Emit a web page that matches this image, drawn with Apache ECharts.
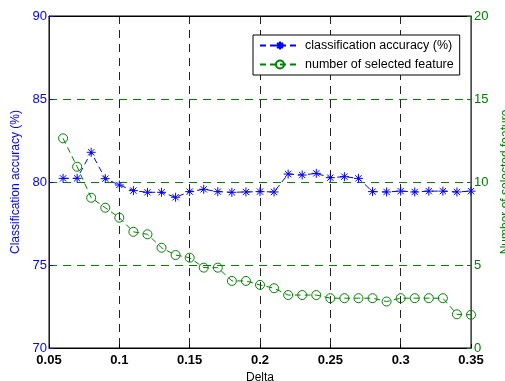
<!DOCTYPE html>
<html>
<head>
<meta charset="utf-8">
<script src="https://cdn.jsdelivr.net/npm/echarts@6/dist/echarts.min.js"></script>
<style>
  html, body { margin: 0; padding: 0; background: #fff; }
  #chart { width: 505px; height: 381px; }
</style>
</head>
<body>
<div id="chart"></div>
<script>
var chart = echarts.init(document.getElementById("chart"));

// delta values 0.06 .. 0.35
let delta = [0.06, 0.07, 0.08, 0.09, 0.10, 0.11, 0.12, 0.13, 0.14, 0.15,
  0.16, 0.17, 0.18, 0.19, 0.20, 0.21, 0.22, 0.23, 0.24, 0.25,
  0.26, 0.27, 0.28, 0.29, 0.30, 0.31, 0.32, 0.33, 0.34, 0.35];

let accuracy = [80.22, 80.22, 81.79, 80.2, 79.82, 79.48, 79.38, 79.38, 79.08, 79.42,
  79.56, 79.42, 79.38, 79.4, 79.42, 79.4, 80.48, 80.42, 80.52, 80.26,
  80.32, 80.22, 79.42, 79.4, 79.45, 79.4, 79.45, 79.45, 79.4, 79.45];

let features = [12.63, 10.92, 9.05, 8.45, 7.85, 7.0, 6.85, 6.04, 5.6, 5.44,
  4.84, 4.84, 4.04, 4.04, 3.8, 3.6, 3.19, 3.19, 3.19, 3.0,
  3.0, 3.0, 3.0, 2.8, 3.0, 3.0, 3.0, 3.0, 2.03, 2.0];

let blue = "#0000ff";
let green = "#008000";
let font = "Liberation Sans, Arial, sans-serif";

// asterisk marker like matlab '*'
let asterisk = "path://M0,-5L0,5M-5,0L5,0M-3.5,-3.5L3.5,3.5M-3.5,3.5L3.5,-3.5";

function pairs(xs, ys) {
  let out = [];
  for (let i = 0; i < xs.length; i++) out.push([xs[i], ys[i]]);
  return out;
}

chart.setOption({
  animation: false,
  textStyle: { fontFamily: font },
  grid: {
    left: 49, right: 34, top: 16, bottom: 33,
    outerBoundsMode: "none",
    containLabel: false,
    show: true, borderColor: "#000", borderWidth: 1
  },
  legend: {
    left: 253, top: 35,
    orient: "vertical",
    backgroundColor: "#fff",
    borderColor: "#000",
    borderWidth: 1,
    padding: [4, 6, 4, 6],
    itemWidth: 40,
    itemHeight: 10,
    itemGap: 6,
    textStyle: { fontSize: 12.5, color: "#000", fontFamily: font },
    data: ["classification accuracy (%)", "number of selected feature"]
  },
  xAxis: [
    {
      type: "value",
      min: 0.05, max: 0.35, interval: 0.05,
      name: "Delta",
      nameLocation: "middle",
      nameGap: 21,
      nameTextStyle: { fontSize: 12, color: "#000" },
      axisLine: { lineStyle: { color: "#000" } },
      axisTick: { inside: true, length: 4, lineStyle: { color: "#000" } },
      axisLabel: {
        fontSize: 13, fontWeight: "bold", color: "#000", margin: 6,
        formatter: function (v) { return +v.toFixed(2) + ""; }
      },
      splitLine: { show: true, lineStyle: { color: "#222", type: [8, 6], width: 1 } }
    },
    {
      // top frame line
      type: "value",
      position: "top",
      min: 0.05, max: 0.35, interval: 0.05,
      axisLine: { show: true, lineStyle: { color: "#000" } },
      axisTick: { show: false },
      axisLabel: { show: false },
      splitLine: { show: false }
    }
  ],
  yAxis: [
    {
      type: "value",
      min: 70, max: 90, interval: 5,
      name: "Classification accuracy (%)",
      nameLocation: "middle",
      nameGap: 26,
      nameTextStyle: { fontSize: 12, color: blue },
      axisLine: { show: true, lineStyle: { color: blue } },
      axisTick: { show: true, inside: true, length: 4, lineStyle: { color: blue } },
      axisLabel: { fontSize: 13, color: blue, margin: 2 },
      splitLine: { show: true, lineStyle: { color: green, type: [8, 6], width: 1 } }
    },
    {
      type: "value",
      min: 0, max: 20, interval: 5,
      position: "right",
      name: "Number of selected feature",
      nameLocation: "middle",
      nameGap: 25,
      nameRotate: 90,
      nameTextStyle: { fontSize: 12, color: green, verticalAlign: "top" },
      axisLine: { show: true, lineStyle: { color: "#1d5c7a" } },
      axisTick: { show: true, inside: true, length: 4, lineStyle: { color: green } },
      axisLabel: { fontSize: 13, color: green, margin: 3 },
      splitLine: { show: false }
    }
  ],
  series: [
    {
      name: "classification accuracy (%)",
      type: "line",
      yAxisIndex: 0,
      data: pairs(delta, accuracy),
      symbol: asterisk,
      symbolSize: 9,
      showAllSymbol: true,
      itemStyle: { color: "none", borderColor: blue, borderWidth: 1 },
      lineStyle: { color: blue, width: 1, type: [6, 4] },
      z: 3
    },
    {
      name: "number of selected feature",
      type: "line",
      yAxisIndex: 1,
      data: pairs(delta, features),
      symbol: "circle",
      symbolSize: 9,
      showAllSymbol: true,
      itemStyle: { color: "none", borderColor: green, borderWidth: 1 },
      lineStyle: { color: green, width: 1, type: [6, 4] },
      z: 2
    }
  ]
});
</script>
</body>
</html>
